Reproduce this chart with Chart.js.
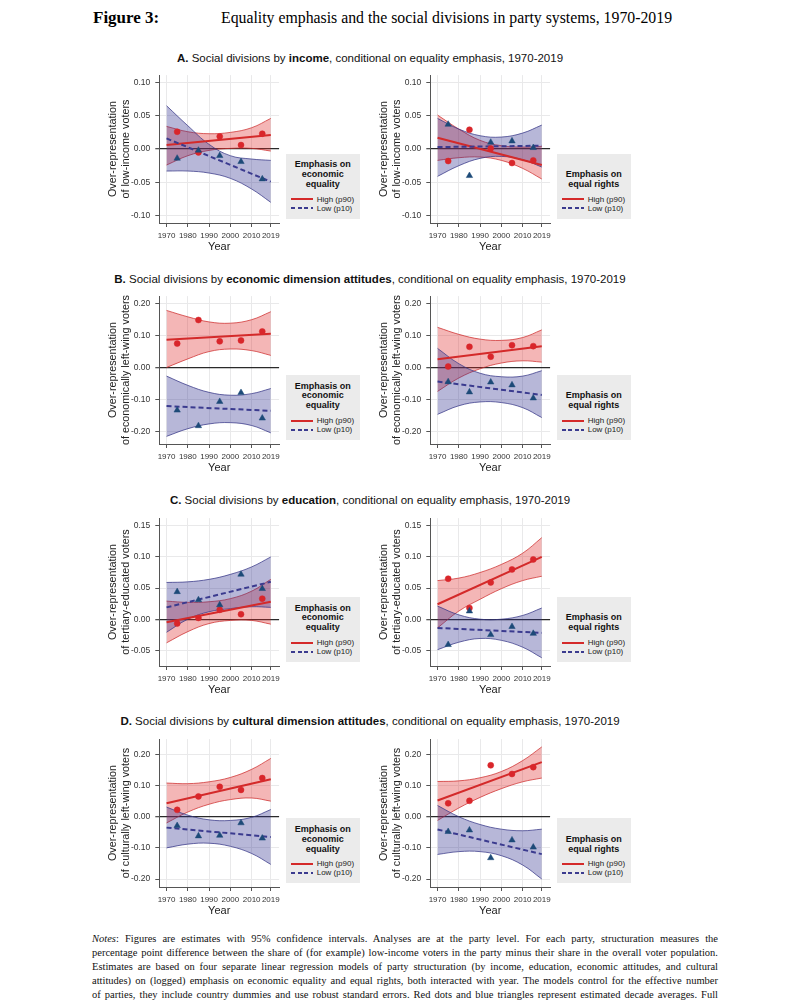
<!DOCTYPE html>
<html><head><meta charset="utf-8">
<script src="https://cdn.jsdelivr.net/npm/chart.js@4.4.0/dist/chart.umd.min.js"></script>
<style>
body{margin:0;background:#fff;}
#page{position:relative;width:811px;height:1000px;overflow:hidden;background:#fff;font-family:"Liberation Sans",Arial,sans-serif;}
.fig{position:absolute;top:8px;font-family:"Liberation Serif","Times New Roman",serif;font-size:17px;color:#000;white-space:nowrap;}
.ptitle{position:absolute;left:0;width:740px;text-align:center;font-size:11.5px;line-height:14px;color:#111;white-space:nowrap;}
canvas{position:absolute;}
.legend{position:absolute;width:74px;height:65px;background:#ebebeb;display:flex;flex-direction:column;justify-content:flex-end;padding-bottom:6px;box-sizing:border-box;}
.lt{font-weight:bold;font-size:9px;line-height:9.8px;text-align:center;color:#111;margin-bottom:5px;}
.le{display:flex;align-items:center;font-size:8px;line-height:9px;color:#222;padding-left:5px;white-space:nowrap;}
.sw{width:22px;height:2px;margin-right:4px;flex:none;}
.notes{position:absolute;left:92px;width:626px;top:932px;font-family:"Liberation Serif","Times New Roman",serif;font-size:10.5px;line-height:14px;color:#111;}
.notes div{text-align:justify;text-align-last:justify;}
.notes div.last{text-align-last:left;}
</style></head>
<body><div id="page"></div>
<script>
// ---------- shared axes ----------
const xTicks = [1970, 1980, 1990, 2000, 2010, 2019];
const decadeYears = [1975, 1985, 1995, 2005, 2015];
const fitYears = [1970, 2019];
const bandYears = [1970, 1980, 1990, 2000, 2010, 2019];

const yTicksA = [-0.10, -0.05, 0, 0.05, 0.10];
const yTicksB = [-0.20, -0.10, 0, 0.10, 0.20];
const yTicksC = [-0.05, 0, 0.05, 0.10, 0.15];
const yTicksD = [-0.20, -0.10, 0, 0.10, 0.20];

// ---------- A: income ----------
const A1_highDots = [0.026, -0.005, 0.019, 0.006, 0.023];
const A1_lowDots = [-0.014, -0.002, -0.010, -0.019, -0.045];
const A1_highFit = [0.006, 0.021];
const A1_lowFit = [0.016, -0.049];
const A1_highUpper = [0.034, 0.026, 0.023, 0.025, 0.032, 0.046];
const A1_highLower = [-0.024, -0.010, -0.002, 0.001, 0.001, -0.003];
const A1_lowUpper = [0.065, 0.035, 0.007, -0.010, -0.015, -0.017];
const A1_lowLower = [-0.033, -0.033, -0.036, -0.044, -0.060, -0.080];

const A2_highDots = [-0.018, 0.029, 0.001, -0.021, -0.017];
const A2_lowDots = [0.037, -0.040, 0.010, 0.012, 0.002];
const A2_highFit = [0.017, -0.024];
const A2_lowFit = [0.003, 0.005];
const A2_highUpper = [0.051, 0.030, 0.013, 0.005, 0.003, 0.004];
const A2_highLower = [-0.017, -0.013, -0.012, -0.017, -0.029, -0.045];
const A2_lowUpper = [0.046, 0.030, 0.020, 0.018, 0.024, 0.036];
const A2_lowLower = [-0.041, -0.025, -0.014, -0.011, -0.016, -0.027];

// ---------- B: economic attitudes ----------
const B1_highDots = [0.075, 0.149, 0.082, 0.085, 0.113];
const B1_lowDots = [-0.134, -0.183, -0.107, -0.079, -0.159];
const B1_highFit = [0.087, 0.106];
const B1_lowFit = [-0.121, -0.136];
const B1_highUpper = [0.179, 0.159, 0.143, 0.139, 0.150, 0.175];
const B1_highLower = [0.000, 0.027, 0.050, 0.058, 0.053, 0.038];
const B1_lowUpper = [-0.027, -0.056, -0.078, -0.087, -0.082, -0.066];
const B1_lowLower = [-0.216, -0.192, -0.177, -0.173, -0.182, -0.205];

const B2_highDots = [0.003, 0.065, 0.034, 0.070, 0.067];
const B2_lowDots = [-0.045, -0.077, -0.046, -0.055, -0.096];
const B2_highFit = [0.026, 0.067];
const B2_lowFit = [-0.044, -0.086];
const B2_highUpper = [0.126, 0.104, 0.089, 0.085, 0.094, 0.118];
const B2_highLower = [-0.075, -0.033, -0.004, 0.014, 0.021, 0.017];
const B2_lowUpper = [0.060, 0.012, -0.018, -0.029, -0.027, -0.010];
const B2_lowLower = [-0.147, -0.120, -0.108, -0.110, -0.126, -0.157];

// ---------- C: education ----------
const C1_highDots = [-0.007, 0.002, 0.015, 0.008, 0.033];
const C1_lowDots = [0.044, 0.031, 0.023, 0.072, 0.049];
const C1_highFit = [-0.005, 0.028];
const C1_lowFit = [0.019, 0.060];
const C1_highUpper = [0.029, 0.027, 0.028, 0.033, 0.045, 0.064];
const C1_highLower = [-0.038, -0.020, -0.007, -0.002, -0.002, -0.008];
const C1_lowUpper = [0.059, 0.060, 0.064, 0.072, 0.084, 0.100];
const C1_lowLower = [-0.021, 0.000, 0.012, 0.017, 0.020, 0.019];

const C2_highDots = [0.065, 0.018, 0.059, 0.080, 0.096];
const C2_lowDots = [-0.041, 0.013, -0.025, -0.012, -0.023];
const C2_highFit = [0.024, 0.100];
const C2_lowFit = [-0.014, -0.022];
const C2_highUpper = [0.062, 0.066, 0.075, 0.088, 0.106, 0.131];
const C2_highLower = [-0.014, 0.013, 0.032, 0.049, 0.062, 0.069];
const C2_lowUpper = [0.021, 0.007, 0.000, 0.000, 0.006, 0.018];
const C2_lowLower = [-0.049, -0.037, -0.031, -0.034, -0.045, -0.062];

// ---------- D: cultural attitudes ----------
const D1_highDots = [0.022, 0.065, 0.096, 0.086, 0.124];
const D1_lowDots = [-0.029, -0.062, -0.060, -0.020, -0.069];
const D1_highFit = [0.043, 0.120];
const D1_lowFit = [-0.035, -0.065];
const D1_highUpper = [0.108, 0.106, 0.112, 0.126, 0.152, 0.187];
const D1_highLower = [-0.020, 0.015, 0.040, 0.055, 0.060, 0.050];
const D1_lowUpper = [0.031, 0.005, -0.010, -0.012, -0.002, 0.023];
const D1_lowLower = [-0.100, -0.088, -0.085, -0.095, -0.118, -0.153];

const D2_highDots = [0.043, 0.051, 0.165, 0.137, 0.159];
const D2_lowDots = [-0.048, -0.043, -0.132, -0.075, -0.098];
const D2_highFit = [0.052, 0.175];
const D2_lowFit = [-0.041, -0.120];
const D2_highUpper = [0.113, 0.115, 0.125, 0.145, 0.180, 0.224];
const D2_highLower = [-0.012, 0.028, 0.062, 0.090, 0.112, 0.124];
const D2_lowUpper = [0.036, 0.000, -0.025, -0.040, -0.045, -0.040];
const D2_lowLower = [-0.121, -0.112, -0.112, -0.125, -0.155, -0.200];

// ---------- text ----------
const figLabel = 'Figure 3:';
const figTitle = 'Equality emphasis and the social divisions in party systems, 1970-2019';
const panelTitles = [
  '<b>A.</b> Social divisions by <b>income</b>, conditional on equality emphasis, 1970-2019',
  '<b>B.</b> Social divisions by <b>economic dimension attitudes</b>, conditional on equality emphasis, 1970-2019',
  '<b>C.</b> Social divisions by <b>education</b>, conditional on equality emphasis, 1970-2019',
  '<b>D.</b> Social divisions by <b>cultural dimension attitudes</b>, conditional on equality emphasis, 1970-2019'
];
const yTitles = [
  ['Over-representation', 'of low-income voters'],
  ['Over-representation', 'of economically left-wing voters'],
  ['Over-representation', 'of tertiary-educated voters'],
  ['Over-representation', 'of culturally left-wing voters']
];
const legendTitles = ['Emphasis on<br>economic<br>equality', 'Emphasis on<br>equal rights'];
const seriesNames = ['High (p90)', 'Low (p10)'];
const notesLines = [
  '<i>Notes</i>: Figures are estimates with 95% confidence intervals. Analyses are at the party level. For each party, structuration measures the',
  'percentage point difference between the share of (for example) low-income voters in the party minus their share in the overall voter population.',
  'Estimates are based on four separate linear regression models of party structuration (by income, education, economic attitudes, and cultural',
  'attitudes) on (logged) emphasis on economic equality and equal rights, both interacted with year. The models control for the effective number',
  'of parties, they include country dummies and use robust standard errors. Red dots and blue triangles represent estimated decade averages. Full',
  'regression results are in Appendix C.'
];

// ---------- assemble ----------
const panels = [
  [{hd:A1_highDots,ld:A1_lowDots,hf:A1_highFit,lf:A1_lowFit,hu:A1_highUpper,hl:A1_highLower,lu:A1_lowUpper,ll:A1_lowLower},
   {hd:A2_highDots,ld:A2_lowDots,hf:A2_highFit,lf:A2_lowFit,hu:A2_highUpper,hl:A2_highLower,lu:A2_lowUpper,ll:A2_lowLower}],
  [{hd:B1_highDots,ld:B1_lowDots,hf:B1_highFit,lf:B1_lowFit,hu:B1_highUpper,hl:B1_highLower,lu:B1_lowUpper,ll:B1_lowLower},
   {hd:B2_highDots,ld:B2_lowDots,hf:B2_highFit,lf:B2_lowFit,hu:B2_highUpper,hl:B2_highLower,lu:B2_lowUpper,ll:B2_lowLower}],
  [{hd:C1_highDots,ld:C1_lowDots,hf:C1_highFit,lf:C1_lowFit,hu:C1_highUpper,hl:C1_highLower,lu:C1_lowUpper,ll:C1_lowLower},
   {hd:C2_highDots,ld:C2_lowDots,hf:C2_highFit,lf:C2_lowFit,hu:C2_highUpper,hl:C2_highLower,lu:C2_lowUpper,ll:C2_lowLower}],
  [{hd:D1_highDots,ld:D1_lowDots,hf:D1_highFit,lf:D1_lowFit,hu:D1_highUpper,hl:D1_highLower,lu:D1_lowUpper,ll:D1_lowLower},
   {hd:D2_highDots,ld:D2_lowDots,hf:D2_highFit,lf:D2_lowFit,hu:D2_highUpper,hl:D2_highLower,lu:D2_lowUpper,ll:D2_lowLower}]
];
const rowTicks = [yTicksA, yTicksB, yTicksC, yTicksD];
const rowRange = [[-0.111, 0.111], [-0.240, 0.224], [-0.0752, 0.1624], [-0.2255, 0.249]];
const rowPlotTop = [72.7, 294, 516, 737.3];
const rowTitleTop = [51, 272, 493, 714];
const colPlotLeft = [159.3, 430];
const colLegendLeft = [285.7, 556.7];

const FONT = '"Liberation Sans", Arial, sans-serif';
const RED = '#d42a2a', RED_DOT = '#d9262b', RED_EDGE = 'rgba(205,45,45,0.75)', RED_FILL = 'rgba(222,40,40,0.34)';
const BLUE = '#3b3b8f', TRI = '#1d4a78', BLUE_EDGE = 'rgba(55,55,135,0.75)', BLUE_FILL = 'rgba(45,45,140,0.34)';
const AXIS = '#555', GRID = '#e9e9ea';

const page = document.getElementById('page');
function el(tag, cls, html, style) {
  const e = document.createElement(tag);
  if (cls) e.className = cls;
  if (html != null) e.innerHTML = html;
  if (style) Object.assign(e.style, style);
  page.appendChild(e);
  return e;
}
el('div', 'fig', '<b>' + figLabel + '</b>', {left: '93px'});
el('div', 'fig', figTitle, {left: '221px', fontSize: '15.8px', top: '9px'});
el('div', 'notes', notesLines.map((l, i) => '<div' + (i === notesLines.length - 1 ? ' class="last"' : '') + '>' + l + '</div>').join(''));

const pts = (xs, ys) => xs.map((x, i) => ({x: x, y: ys[i]}));
const Y_AXIS_W = 59.3, PLOT_W = 122.4, PLOT_H = 150, TOP_PAD = 8, X_AXIS_H = 35, RIGHT_PAD = 2.3;

function makeChart(row, col) {
  const p = panels[row][col];
  const c = document.createElement('canvas');
  const W = Y_AXIS_W + PLOT_W + RIGHT_PAD, H = TOP_PAD + PLOT_H + X_AXIS_H;
  c.width = W; c.height = H;
  Object.assign(c.style, {left: (colPlotLeft[col] - Y_AXIS_W) + 'px', top: (rowPlotTop[row] - TOP_PAD) + 'px', width: W + 'px', height: H + 'px'});
  page.appendChild(c);
  const line = {pointRadius: 0, pointHoverRadius: 0};
  new Chart(c, {
    type: 'line',
    data: {datasets: [
      {data: pts(decadeYears, p.ld), showLine: false, pointStyle: 'triangle', pointRadius: 3.7, pointBackgroundColor: TRI, pointBorderColor: TRI, pointBorderWidth: 0.5},
      {data: pts(decadeYears, p.hd), showLine: false, pointStyle: 'circle', pointRadius: 3, pointBackgroundColor: RED_DOT, pointBorderColor: RED_DOT, pointBorderWidth: 0.5},
      Object.assign({data: pts(fitYears, p.lf), borderColor: BLUE, borderWidth: 2, borderDash: [5, 3], fill: false}, line),
      Object.assign({data: pts(fitYears, p.hf), borderColor: RED, borderWidth: 2, fill: false}, line),
      Object.assign({data: pts(bandYears, p.lu), borderColor: BLUE_EDGE, borderWidth: 1, tension: 0.4, fill: false}, line),
      Object.assign({data: pts(bandYears, p.ll), borderColor: BLUE_EDGE, borderWidth: 1, tension: 0.4, fill: '-1', backgroundColor: BLUE_FILL}, line),
      Object.assign({data: pts(bandYears, p.hu), borderColor: RED_EDGE, borderWidth: 1, tension: 0.4, fill: false}, line),
      Object.assign({data: pts(bandYears, p.hl), borderColor: RED_EDGE, borderWidth: 1, tension: 0.4, fill: '-1', backgroundColor: RED_FILL}, line)
    ]},
    options: {
      responsive: false, animation: false, events: [],
      layout: {padding: {top: TOP_PAD, right: RIGHT_PAD, left: 0, bottom: 0}},
      plugins: {legend: {display: false}, tooltip: {enabled: false}},
      scales: {
        x: {
          type: 'linear', min: 1966.6, max: 2022.9,
          afterBuildTicks: s => { s.ticks = xTicks.map(v => ({value: v})); },
          afterFit: s => { s.height = X_AXIS_H; },
          ticks: {font: {size: 8, family: FONT}, color: '#333', padding: 4, maxRotation: 0, autoSkip: false, callback: v => String(v)},
          grid: {color: GRID, lineWidth: 1, tickLength: 4, tickColor: AXIS},
          border: {color: AXIS, width: 1},
          title: {display: true, text: 'Year', font: {size: 11, family: FONT}, color: '#222', padding: {top: 0, bottom: 4}}
        },
        y: {
          type: 'linear', min: rowRange[row][0], max: rowRange[row][1],
          afterBuildTicks: s => { s.ticks = rowTicks[row].map(v => ({value: v})); },
          afterFit: s => { s.width = Y_AXIS_W; },
          ticks: {font: {size: 8.5, family: FONT}, color: '#333', padding: 5, callback: v => v.toFixed(2)},
          grid: {
            color: ctx => (ctx.tick && Math.abs(ctx.tick.value) < 1e-9) ? '#2a2a2a' : GRID,
            lineWidth: ctx => (ctx.tick && Math.abs(ctx.tick.value) < 1e-9) ? 1.3 : 1,
            tickLength: 4, tickColor: AXIS
          },
          border: {color: AXIS, width: 1},
          title: {display: true, text: yTitles[row], font: {size: 10.8, family: FONT, lineHeight: 1.2}, color: '#222', padding: {top: 6.5, bottom: 0}}
        }
      }
    }
  });
  const lg = el('div', 'legend', null, {left: colLegendLeft[col] + 'px', top: (rowPlotTop[row] + 81) + 'px'});
  lg.innerHTML = '<div class="lt">' + legendTitles[col] + '</div>' +
    '<div class="le"><span class="sw" style="background:' + RED + '"></span>' + seriesNames[0] + '</div>' +
    '<div class="le"><span class="sw" style="background:repeating-linear-gradient(90deg,' + BLUE + ' 0 4px,transparent 4px 6.5px)"></span>' + seriesNames[1] + '</div>';
}

for (let r = 0; r < 4; r++) {
  el('div', 'ptitle', panelTitles[r], {top: rowTitleTop[r] + 'px'});
  makeChart(r, 0);
  makeChart(r, 1);
}
</script>
</body></html>
